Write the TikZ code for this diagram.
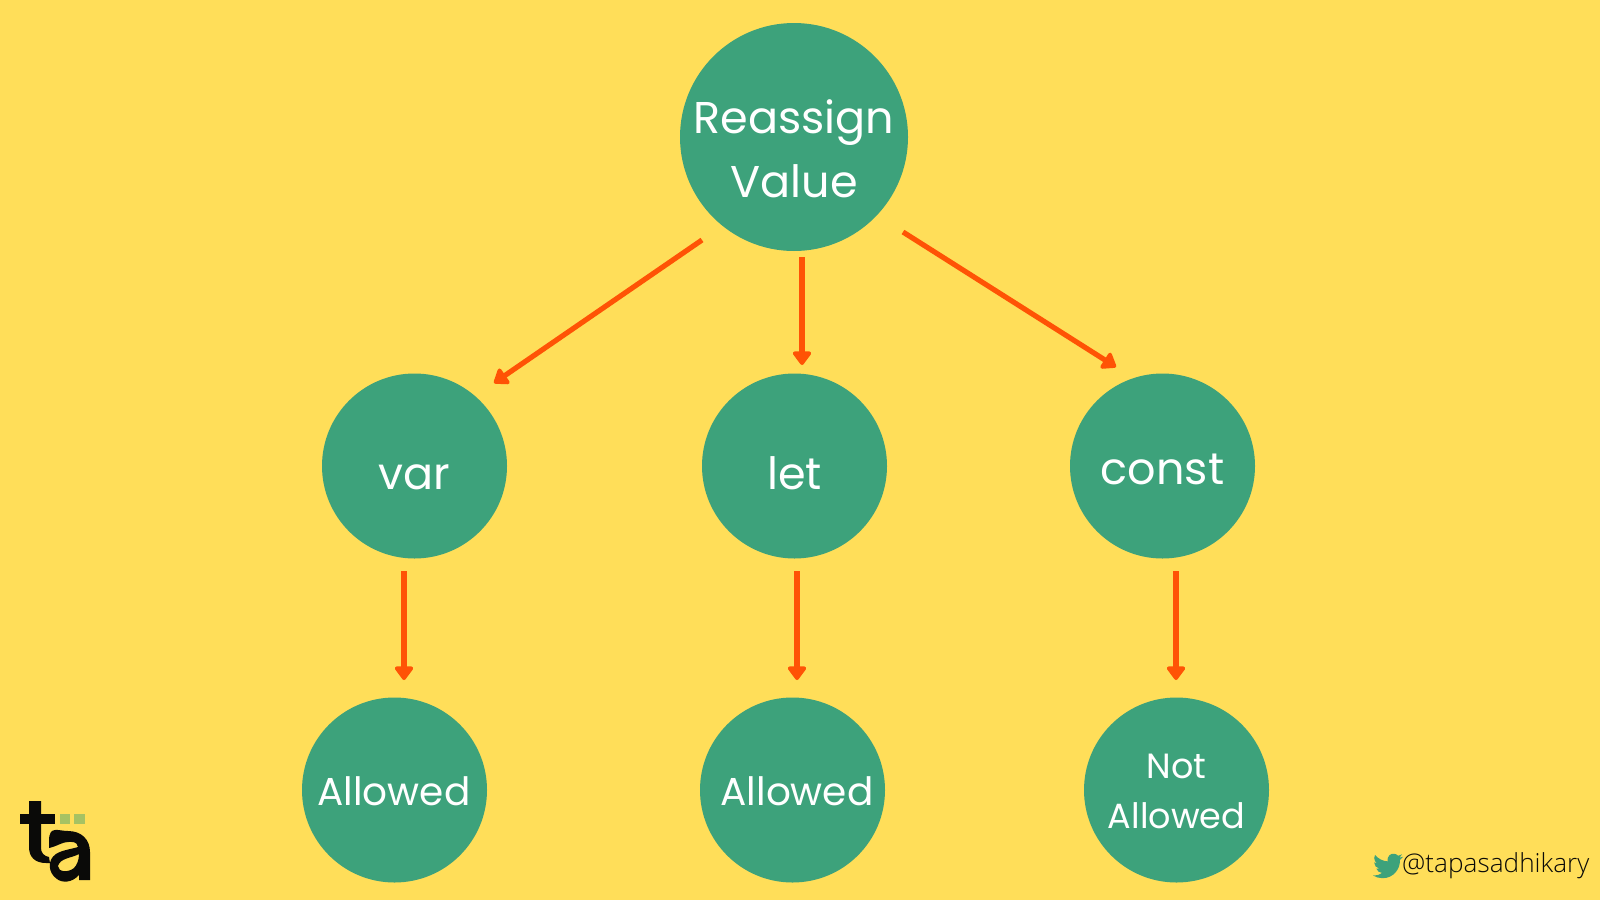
\documentclass[tikz,border=0pt]{standalone}
\usepackage{fontspec}
\setmainfont{Poppins}
\newfontfamily\handle{Open Sans Light}
\usetikzlibrary{arrows.meta}
\definecolor{bg}{HTML}{FFDE59}
\definecolor{teal}{HTML}{3DA27B}
\definecolor{arrowc}{HTML}{FF5305}
\definecolor{logog}{HTML}{A6C263}
\definecolor{logok}{HTML}{0A0A08}
\tikzset{
  big/.style={circle,fill=teal,minimum size=228pt,inner sep=0pt},
  mid/.style={circle,fill=teal,minimum size=185pt,inner sep=0pt},
  bigtext/.style={text=white,inner sep=0pt,align=center,font=\fontsize{44.5}{64}\selectfont},
  midtext/.style={text=white,inner sep=0pt,align=center,font=\fontsize{44.5}{50}\selectfont},
  smalltext/.style={text=white,inner sep=0pt,align=center,font=\fontsize{39}{50}\selectfont},
  nottext/.style={text=white,inner sep=0pt,align=center,font=\fontsize{35}{50}\selectfont},
  link/.style={draw=arrowc,line width=5.2pt,-{Triangle[length=15pt,width=21pt,round]}},
}
\begin{document}
\begin{tikzpicture}[x=1pt,y=-1pt]
\useasboundingbox (0,0) rectangle (1600,900);
\fill[bg] (0,0) rectangle (1600,900);
\node[big] (root) at (794,137) {};
\node[mid] (var) at (414.5,466) {};
\node[mid] (let) at (794.5,466) {};
\node[mid] (const) at (1162.5,466) {};
\node[mid] (a1) at (394.5,790) {};
\node[mid] (a2) at (792.5,790) {};
\node[mid] (a3) at (1176.5,790) {};
\node[bigtext] (rootT) at ([yshift=-12pt]root) {Reassign\\Value};
\node[midtext] (varT) at ([yshift=-11pt]var) {var};
\node[midtext] (letT) at ([yshift=-7pt]let) {let};
\node[midtext] (constT) at ([yshift=-3pt]const) {const};
\node[smalltext] (a1T) at ([xshift=-0.5pt,yshift=-1pt]a1) {Allowed};
\node[smalltext] (a2T) at ([xshift=4.5pt,yshift=-1pt]a2) {Allowed};
\node[nottext] (a3T) at ([yshift=-1pt]a3) {Not\\Allowed};
\coordinate (r1) at (702,240); \coordinate (v1) at (494,383);
\coordinate (r2) at (802,257); \coordinate (l1) at (802,365);
\coordinate (r3) at (903,232); \coordinate (c1) at (1116,367);
\coordinate (v2) at (404,571); \coordinate (a1t) at (404,680);
\coordinate (l2) at (797,571); \coordinate (a2t) at (797,680);
\coordinate (c2) at (1176,571); \coordinate (a3t) at (1176,680);
\draw[link] (r1) -- (v1);
\draw[link] (r2) -- (l1);
\draw[link] (r3) -- (c1);
\draw[link] (v2) -- (a1t);
\draw[link] (l2) -- (a2t);
\draw[link] (c2) -- (a3t);
% logo
\fill[logog] (60,814) rectangle (70,824);
\fill[logog] (74,814) rectangle (85,824);
\fill[logok] (20,814) rectangle (55,824);
\fill[logok] (29,801) -- (41,801) -- (41,848) .. controls (41,853) and (44,856) .. (49,857) -- (50,863) -- (46,863) .. controls (35,863) and (29,857) .. (29,847) -- cycle;
\fill[logok,even odd rule] (49,841) .. controls (49,825) and (58,831) .. (68,831) .. controls (82,831) and (90,840) .. (90,852) -- (90,880) -- (79,880) -- (79,875) .. controls (72,883) and (62,883) .. (57,879) .. controls (48,873) and (47,860) .. (56,854) .. controls (62,850) and (72,849) .. (78,847) .. controls (77,841) and (72,842) .. (68,842) .. controls (62,842) and (58,846) .. (49,848) -- cycle
(79,854) .. controls (72,858) and (60,858) .. (58,866) .. controls (58,872) and (68,873) .. (74,868) .. controls (77,865) and (79,860) .. (79,854) -- cycle;
% bird
\begin{scope}[shift={(1373,851)},scale=1.25]
\fill[teal] (24,4.59) .. controls (23.1,5) and (22.1,5.23) .. (21.13,5.35)
 .. controls (22.15,4.75) and (22.93,3.76) .. (23.29,2.62)
 .. controls (22.34,3.18) and (21.29,3.58) .. (20.16,3.81)
 .. controls (18.3,1.9) and (15.3,1.6) .. (13.2,3.3)
 .. controls (11.7,4.5) and (11.4,6.5) .. (11.78,8.29)
 .. controls (7.69,8.1) and (4.07,6.13) .. (1.64,3.16)
 .. controls (1.2,3.9) and (0.97,4.75) .. (0.97,5.64)
 .. controls (0.97,7.35) and (1.84,8.85) .. (3.16,9.73)
 .. controls (2.35,9.7) and (1.6,9.5) .. (0.93,9.12)
 -- (0.93,9.18)
 .. controls (0.93,11.55) and (2.6,13.55) .. (4.88,14)
 .. controls (4.15,14.2) and (3.4,14.22) .. (2.67,14.09)
 .. controls (3.3,16.05) and (5.1,17.45) .. (7.27,17.51)
 .. controls (5.55,18.85) and (3.4,19.61) .. (1.17,19.61)
 .. controls (0.78,19.61) and (0.39,19.59) .. (0,19.54)
 .. controls (2.2,20.95) and (4.8,21.75) .. (7.56,21.75)
 .. controls (16.61,21.75) and (21.56,14.26) .. (21.56,7.77)
 .. controls (21.56,7.56) and (21.56,7.35) .. (21.54,7.14)
 .. controls (22.5,6.45) and (23.35,5.6) .. (24,4.59) -- cycle;
\end{scope}
\node[font=\handle\fontsize{26.2}{30}\selectfont,text=logok,anchor=west,inner sep=0pt] (tw) at (1402,866) {@tapasadhikary};
\end{tikzpicture}
\end{document}
